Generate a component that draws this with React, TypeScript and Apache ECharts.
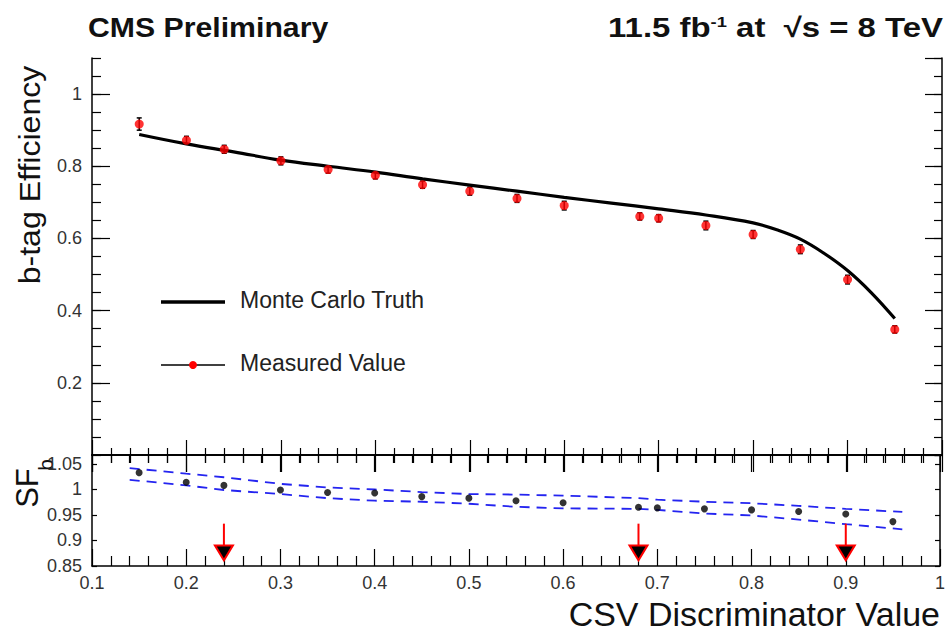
import React, { useEffect, useRef } from "react";
import * as echarts from "echarts";

// ---- data ----
const xMeasured = [0.15, 0.2, 0.24, 0.3, 0.35, 0.4, 0.45, 0.5, 0.55, 0.6, 0.68, 0.7, 0.75, 0.8, 0.85, 0.9, 0.95];
const effMeasured = [0.917, 0.872, 0.847, 0.815, 0.791, 0.775, 0.749, 0.731, 0.711, 0.691, 0.661, 0.656, 0.636, 0.611, 0.57, 0.486, 0.348];
const effError = [0.017, 0.011, 0.011, 0.011, 0.01, 0.01, 0.01, 0.011, 0.011, 0.012, 0.01, 0.01, 0.012, 0.011, 0.012, 0.012, 0.01];

const xTruth = [0.15, 0.2, 0.25, 0.3, 0.35, 0.4, 0.45, 0.5, 0.55, 0.6, 0.65, 0.7, 0.75, 0.8, 0.825, 0.85, 0.875, 0.9, 0.925, 0.95];
const effTruth = [0.888, 0.862, 0.84, 0.817, 0.8, 0.784, 0.765, 0.748, 0.731, 0.714, 0.698, 0.682, 0.665, 0.643, 0.624, 0.598, 0.559, 0.511, 0.45, 0.378];

const sfValues = [1.033, 1.014, 1.008, 0.999, 0.994, 0.993, 0.986, 0.983, 0.978, 0.974, 0.965, 0.964, 0.962, 0.96, 0.957, 0.952, 0.937];

const xBand = [0.14, 0.2, 0.24, 0.3, 0.35, 0.4, 0.45, 0.5, 0.55, 0.6, 0.68, 0.7, 0.75, 0.8, 0.85, 0.9, 0.96];
const sfBandUp = [1.042, 1.031, 1.024, 1.011, 1.004, 1.0, 0.995, 0.991, 0.99, 0.988, 0.983, 0.98, 0.976, 0.973, 0.968, 0.962, 0.956];
const sfBandDown = [1.019, 1.008, 0.999, 0.991, 0.983, 0.978, 0.976, 0.972, 0.966, 0.963, 0.962, 0.96, 0.953, 0.949, 0.941, 0.932, 0.922];

const workingPoints = [0.24, 0.68, 0.9];
const arrowTop = 0.933;
const arrowTip = 0.861;

const FONT = '"Liberation Sans", Arial, Helvetica, sans-serif';

export default function App() {
  const ref = useRef<HTMLDivElement>(null);

  useEffect(() => {
    if (!ref.current) return;
    const chart = echarts.init(ref.current, undefined, { renderer: "svg" });

    const axisLine = { show: true, lineStyle: { color: "#000", width: 1.5 } };
    const tickStyle = { color: "#000", width: 1.2 };
    const labelStyle = { color: "#333", fontSize: 18, fontFamily: FONT };

    const xBase = (grid: number, pos: string, major: number, minor: number, labels: boolean) => ({
      type: "value",
      gridIndex: grid,
      position: pos,
      min: 0.1,
      max: 1.0,
      interval: 0.1,
      axisLine,
      axisTick: { show: true, inside: true, length: major, lineStyle: tickStyle },
      minorTick: { show: true, splitNumber: 5, length: minor, lineStyle: tickStyle },
      axisLabel: labels ? { ...labelStyle, margin: 8 } : { show: false },
      splitLine: { show: false },
      minorSplitLine: { show: false },
    });

    const yBase = (
      grid: number,
      pos: string,
      min: number,
      max: number,
      interval: number,
      tick: number,
      labels: boolean,
      line: boolean
    ) => ({
      type: "value",
      gridIndex: grid,
      position: pos,
      min,
      max,
      interval,
      axisLine: line ? axisLine : { show: false },
      axisTick: { show: true, inside: true, length: tick, lineStyle: tickStyle },
      axisLabel: labels
        ? { ...labelStyle, margin: 10, showMinLabel: grid === 1, showMaxLabel: false }
        : { show: false },
      splitLine: { show: false },
    });

    const option: any = {
      animation: false,
      backgroundColor: "#fff",
      grid: [
        { left: 92, right: 6, top: 58, height: 397 },
        { left: 92, right: 6, top: 455, height: 111 },
      ],
      xAxis: [
        xBase(0, "bottom", 15, 7, false),
        xBase(0, "top", 17, 8, false),
        xBase(1, "bottom", 17, 10, true),
        xBase(1, "top", 17, 8, false),
      ],
      yAxis: [
        yBase(0, "left", 0, 1.1, 0.2, 18, true, true),
        yBase(0, "left", 0, 1.1, 0.05, 9, false, false),
        yBase(0, "right", 0, 1.1, 0.2, 17, false, true),
        yBase(0, "right", 0, 1.1, 0.05, 8, false, false),
        yBase(1, "left", 0.85, 1.0676, 0.05, 5, true, true),
        yBase(1, "right", 0.85, 1.0676, 0.05, 5, false, true),
      ],
      series: [
        {
          name: "Monte Carlo Truth",
          type: "line",
          xAxisIndex: 0,
          yAxisIndex: 0,
          smooth: 0.4,
          symbol: "none",
          data: xTruth.map((x, i) => [x, effTruth[i]]),
          lineStyle: { color: "#000", width: 3.2 },
          z: 2,
        },
        {
          name: "errors",
          type: "custom",
          xAxisIndex: 0,
          yAxisIndex: 0,
          data: xMeasured.map((x, i) => [x, effMeasured[i], effError[i]]),
          renderItem: (params: any, api: any) => {
            const x = api.value(0);
            const y = api.value(1);
            const e = api.value(2);
            const lo = api.coord([x, y - e]);
            const hi = api.coord([x, y + e]);
            const st = { stroke: "#000", lineWidth: 1.5 };
            return {
              type: "group",
              children: [
                { type: "line", shape: { x1: lo[0], y1: lo[1], x2: hi[0], y2: hi[1] }, style: st },
                { type: "line", shape: { x1: lo[0] - 2.5, y1: lo[1], x2: lo[0] + 2.5, y2: lo[1] }, style: st },
                { type: "line", shape: { x1: hi[0] - 2.5, y1: hi[1], x2: hi[0] + 2.5, y2: hi[1] }, style: st },
              ],
            };
          },
          z: 3,
        },
        {
          name: "Measured Value",
          type: "scatter",
          xAxisIndex: 0,
          yAxisIndex: 0,
          symbol: "circle",
          symbolSize: 9,
          data: xMeasured.map((x, i) => [x, effMeasured[i]]),
          itemStyle: { color: "#ff0000" },
          z: 4,
        },
        {
          name: "SF up",
          type: "line",
          xAxisIndex: 2,
          yAxisIndex: 4,
          symbol: "none",
          data: xBand.map((x, i) => [x, sfBandUp[i]]),
          lineStyle: { color: "#2424f0", width: 1.8, type: [10, 7] },
        },
        {
          name: "SF down",
          type: "line",
          xAxisIndex: 2,
          yAxisIndex: 4,
          symbol: "none",
          data: xBand.map((x, i) => [x, sfBandDown[i]]),
          lineStyle: { color: "#2424f0", width: 1.8, type: [10, 7] },
        },
        {
          name: "SFb",
          type: "scatter",
          xAxisIndex: 2,
          yAxisIndex: 4,
          symbol: "circle",
          symbolSize: 7,
          data: xMeasured.map((x, i) => [x, sfValues[i]]),
          itemStyle: { color: "#000" },
          z: 4,
        },
        {
          name: "working points",
          type: "custom",
          xAxisIndex: 2,
          yAxisIndex: 4,
          data: workingPoints.map((x) => [x, arrowTop, arrowTip]),
          renderItem: (params: any, api: any) => {
            const top = api.coord([api.value(0), api.value(1)]);
            const tip = api.coord([api.value(0), api.value(2)]);
            const hh = 15;
            const hw = 9;
            return {
              type: "group",
              children: [
                {
                  type: "line",
                  shape: { x1: top[0], y1: top[1], x2: tip[0], y2: tip[1] - hh },
                  style: { stroke: "#ff0000", lineWidth: 2 },
                },
                {
                  type: "polygon",
                  shape: {
                    points: [
                      [tip[0] - hw, tip[1] - hh],
                      [tip[0] + hw, tip[1] - hh],
                      [tip[0], tip[1]],
                    ],
                  },
                  style: { fill: "#000", stroke: "#ff0000", lineWidth: 2 },
                },
              ],
            };
          },
          z: 5,
        },
      ],
      graphic: [
        {
          type: "text",
          x: 88,
          y: 28,
          scaleX: 1.12,
          style: {
            text: "CMS Preliminary",
            font: `bold 27px ${FONT}`,
            fill: "#111",
            align: "left",
            verticalAlign: "middle",
          },
        },
        {
          type: "text",
          x: 943,
          y: 28,
          scaleX: 1.22,
          style: {
            text: "{n|11.5 fb}{s|-1}{n| at  √s = 8 TeV}",
            rich: {
              n: { font: `bold 27px ${FONT}`, fill: "#111" },
              s: { font: `bold 15px ${FONT}`, fill: "#111", verticalAlign: "top" },
            },
            align: "right",
            verticalAlign: "middle",
          },
        },
        {
          type: "text",
          x: 30,
          y: 175,
          rotation: Math.PI / 2,
          scaleX: 1.07,
          style: {
            text: "b-tag Efficiency",
            font: `30px ${FONT}`,
            fill: "#111",
            align: "center",
            verticalAlign: "middle",
          },
        },
        {
          type: "text",
          x: 27,
          y: 488,
          rotation: Math.PI / 2,
          style: {
            text: "SF",
            font: `31px ${FONT}`,
            fill: "#111",
            align: "center",
            verticalAlign: "middle",
          },
        },
        {
          type: "text",
          x: 45,
          y: 465,
          rotation: Math.PI / 2,
          style: {
            text: "b",
            font: `21px ${FONT}`,
            fill: "#111",
            align: "center",
            verticalAlign: "middle",
          },
        },
        {
          type: "text",
          x: 940,
          y: 615,
          scaleX: 1.03,
          style: {
            text: "CSV Discriminator Value",
            font: `33px ${FONT}`,
            fill: "#111",
            align: "right",
            verticalAlign: "middle",
          },
        },
        {
          type: "line",
          shape: { x1: 161, y1: 302, x2: 225, y2: 302 },
          style: { stroke: "#000", lineWidth: 3.5 },
        },
        {
          type: "text",
          x: 240,
          y: 300,
          style: {
            text: "Monte Carlo Truth",
            font: `23px ${FONT}`,
            fill: "#222",
            align: "left",
            verticalAlign: "middle",
          },
        },
        {
          type: "line",
          shape: { x1: 161, y1: 365, x2: 225, y2: 365 },
          style: { stroke: "#000", lineWidth: 1.5 },
        },
        {
          type: "circle",
          shape: { cx: 193, cy: 365, r: 4 },
          style: { fill: "#ff0000" },
        },
        {
          type: "text",
          x: 240,
          y: 363,
          style: {
            text: "Measured Value",
            font: `23px ${FONT}`,
            fill: "#222",
            align: "left",
            verticalAlign: "middle",
          },
        },
      ],
    };

    chart.setOption(option);
    return () => chart.dispose();
  }, []);

  return (
    <div
      ref={ref}
      style={{ position: "fixed", left: 0, top: 0, width: 948, height: 635, background: "#fff" }}
    />
  );
}
